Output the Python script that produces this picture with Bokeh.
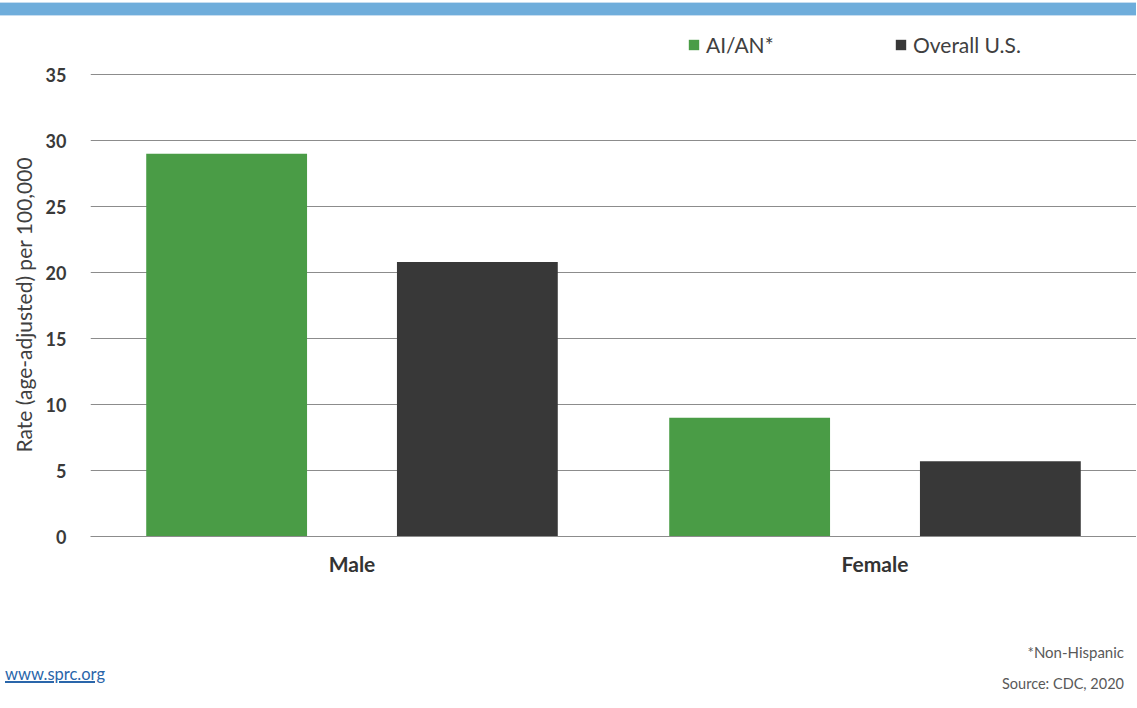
from bokeh.plotting import figure
from bokeh.models import (FactorRange, Range1d, Legend, LegendItem, Title,
                          ColumnDataSource, FixedTicker, Div)
from bokeh.layouts import column
from bokeh.transform import dodge
from bokeh.embed import file_html
from bokeh.resources import INLINE

categories = ["Male", "Female"]
series_names = ["AI/AN*", "Overall U.S."]
aian = [29.0, 9.0]
overall = [20.8, 5.7]
y_ticks = [0, 5, 10, 15, 20, 25, 30, 35]
y_label = "Rate (age-adjusted) per 100,000"

FONT = "Lato"
W = 1136
BAND_H, FIG_H, FOOT_H = 16, 620, 70
GREEN = "#4a9c46"
DARK = "#383838"
GRID = "#8c8c8c"
PX_PER_UNIT = 13.2

src = ColumnDataSource(dict(cat=categories, aian=aian, overall=overall))

p = figure(width=W, height=FIG_H, x_range=FactorRange(*categories),
           y_range=Range1d(0, 35 + 48 / PX_PER_UNIT),
           output_backend="svg", toolbar_location=None, tools="", margin=0,
           min_border_left=90, min_border_right=0, min_border_top=10, min_border_bottom=100)
p.outline_line_color = None
p.background_fill_color = "white"
p.border_fill_color = "white"

r1 = p.vbar(x=dodge("cat", -0.2397, range=p.x_range), top="aian", width=0.3075,
            source=src, fill_color=GREEN, line_color=None)
r2 = p.vbar(x=dodge("cat", 0.2397, range=p.x_range), top="overall", width=0.3075,
            source=src, fill_color=DARK, line_color=None)

# axes
p.yaxis.ticker = FixedTicker(ticks=y_ticks)
p.yaxis.axis_line_color = None
p.yaxis.major_tick_line_color = None
p.yaxis.minor_tick_line_color = None
p.yaxis.major_tick_in = 0
p.yaxis.major_tick_out = 0
p.yaxis.major_label_standoff = 24
p.yaxis.major_label_text_font = FONT
p.yaxis.major_label_text_font_style = "bold"
p.yaxis.major_label_text_font_size = "18px"
p.yaxis.major_label_text_color = "#3a3a3a"

# y axis title (left panel, positioned along the 0-35 scale)
yt = Title(text=y_label, align="left", offset=84, standoff=13,
           text_font=FONT, text_font_style="normal", text_font_size="21px",
           text_color="#404040")
p.add_layout(yt, "left")

p.xaxis.axis_line_color = GRID
p.xaxis.axis_line_width = 1
p.xaxis.major_tick_line_color = None
p.xaxis.minor_tick_line_color = None
p.xaxis.major_tick_in = 0
p.xaxis.major_tick_out = 0
p.xaxis.major_label_standoff = 14
p.xaxis.major_label_text_font = FONT
p.xaxis.major_label_text_font_style = "bold"
p.xaxis.major_label_text_font_size = "21px"
p.xaxis.major_label_text_color = "#333333"

p.xgrid.grid_line_color = None
p.ygrid.grid_line_color = GRID
p.ygrid.grid_line_width = 1

# legend at the top of the plot area
lg = Legend(items=[LegendItem(label=series_names[0], renderers=[r1]),
                   LegendItem(label=series_names[1], renderers=[r2])],
            location=(597, 479), orientation="horizontal", border_line_color=None,
            background_fill_alpha=0, padding=0, margin=0, spacing=0,
            glyph_width=13, glyph_height=13, label_height=13, label_width=188,
            label_standoff=6, label_text_font=FONT, label_text_font_size="21px",
            label_text_color="#404040")
p.add_layout(lg, "center")

band = Div(width=W, height=BAND_H, text="", margin=0,
           styles={"background": "linear-gradient(to bottom, #ffffff 0px, #ffffff 2px, "
                                 "#c6ddf0 2px, #c6ddf0 3px, #6faddb 3px, #6faddb 15px, "
                                 "#c6ddf0 15px, #c6ddf0 16px)"})

foot_html = (
    '<div style="position:relative;width:%dpx;height:%dpx;font-family:Lato;">'
    '<span style="position:absolute;right:12px;top:7px;font-size:15px;line-height:18px;color:#595959;">*Non-Hispanic</span>'
    '<a style="position:absolute;left:5px;top:29px;font-size:16.5px;line-height:18px;color:#2a66aa;text-decoration:underline;text-decoration-thickness:1.5px;">www.sprc.org</a>'
    '<span style="position:absolute;right:12px;top:39px;font-size:14.5px;line-height:18px;color:#595959;">Source: CDC, 2020</span>'
    '</div>' % (W, FOOT_H)
)
footer = Div(width=W, height=FOOT_H, text=foot_html, margin=0)

layout = column(band, p, footer, spacing=0)

open("out.html", "w").write(file_html(layout, INLINE))
